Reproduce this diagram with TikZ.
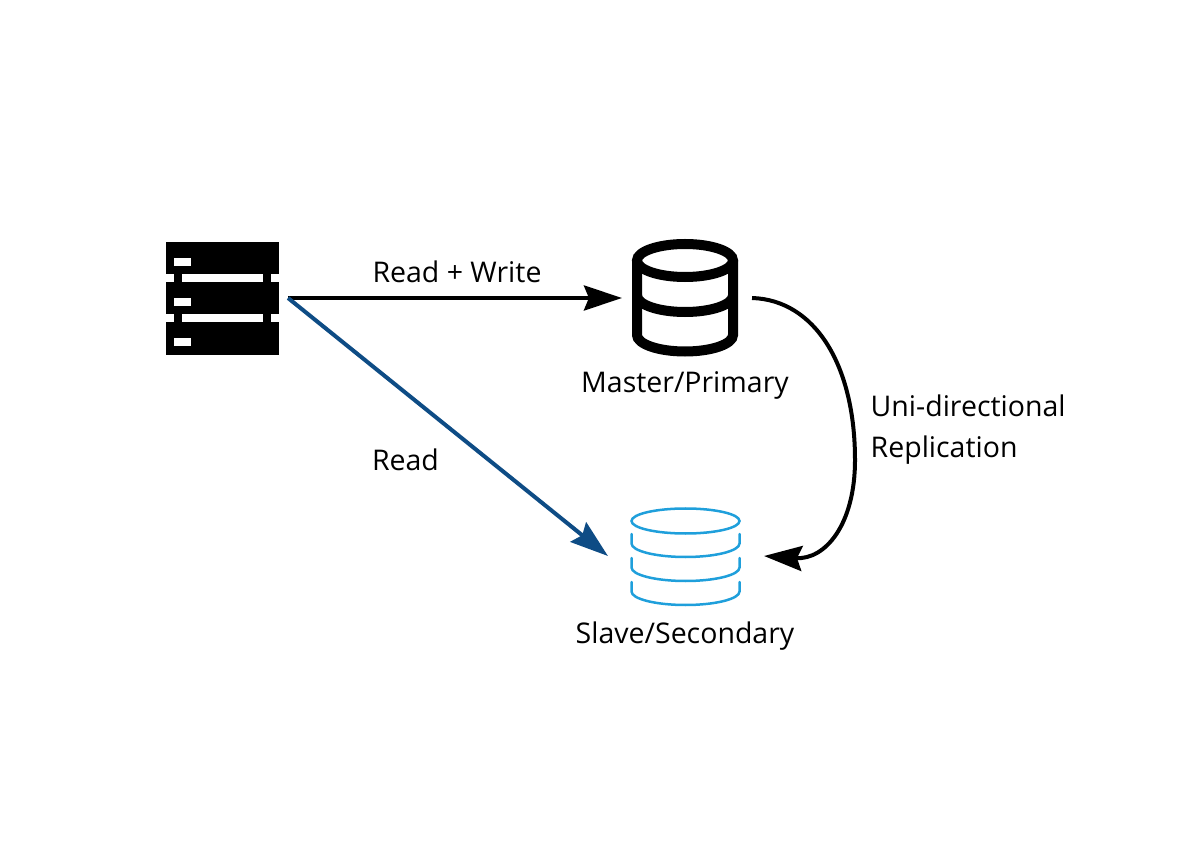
\documentclass[tikz,border=0pt]{standalone}
\usepackage{fontspec}
\setmainfont{Open Sans}
\usetikzlibrary{arrows.meta}

\definecolor{readblue}{HTML}{0E4C85}
\definecolor{slaveblue}{HTML}{1F9FDB}

\tikzset{
    anchorbox/.style={inner sep=0, outer sep=0, minimum height=0.2cm},
    caption/.style={anchor=base, inner sep=0, font=\fontsize{8.1pt}{9pt}\selectfont},
    slit/.style={fill=white, draw=none},
    link/.style={line width=0.04cm, -{Stealth[length=0.38cm, width=0.25cm, inset=0.05cm]}},
    masterline/.style={line width=0.1cm},
    slaveline/.style={line width=0.025cm, slaveblue, line cap=round},
}

\begin{document}
\begin{tikzpicture}[x=0.01cm, y=-0.01cm]
    \useasboundingbox (0,0) rectangle (1200,855);

    % Anchors for the connectors
    \node[anchorbox, minimum width=1.22cm] (server) at (227,298) {};
    \node[anchorbox, minimum width=1.30cm] (master) at (687,298) {};
    \node[anchorbox, minimum width=1.56cm] (slave) at (686,556) {};

    % Server
    \fill (166,242) rectangle (279,355);
    \foreach \y in {274,314} {
        \fill[slit] (166,\y) rectangle (174,\y+8);
        \fill[slit] (182,\y) rectangle (263,\y+8);
        \fill[slit] (271,\y) rectangle (279,\y+8);
    }
    \foreach \y in {258,298,338} {
        \fill[slit] (174,\y) rectangle (190.5,\y+8);
    }

    % Master
    \draw[masterline] (685,260.5) ellipse (48 and 16.5);
    \draw[masterline] (637,260.5) -- (637,335) arc (180:0:48 and 16.5) -- (733,260.5);
    \draw[masterline] (733,295.5) arc (0:180:48 and 16.5);

    % Slave
    \draw[slaveline] (685.5,521) ellipse (54 and 12.5);
    \foreach \y in {534,558,582} {
        \draw[slaveline] (631.5,\y) -- (631.5,\y+9.5) arc (180:0:54 and 13.5) -- (739.5,\y);
    }

    % Connectors
    \draw[link] (server.east) -- (master.west);
    \draw[link, readblue] (server.east) -- (slave.west);
    \draw[link] (master.east) .. controls (815,300) and (855,365) .. (855,460)
        .. controls (855,525) and (825,560) .. (slave.east);

    % Labels
    \node[caption] (rwlabel) at (457,283) {Read + Write};
    \node[caption] (masterlabel) at (685,393) {Master/Primary};
    \node[caption] (readlabel) at (405.5,470) {Read};
    \node[caption, anchor=base west] (unilabel) at (870,417) {Uni-directional};
    \node[caption, anchor=base west] (replabel) at (870,458) {Replication};
    \node[caption] (slavelabel) at (685,643) {Slave/Secondary};
\end{tikzpicture}
\end{document}
